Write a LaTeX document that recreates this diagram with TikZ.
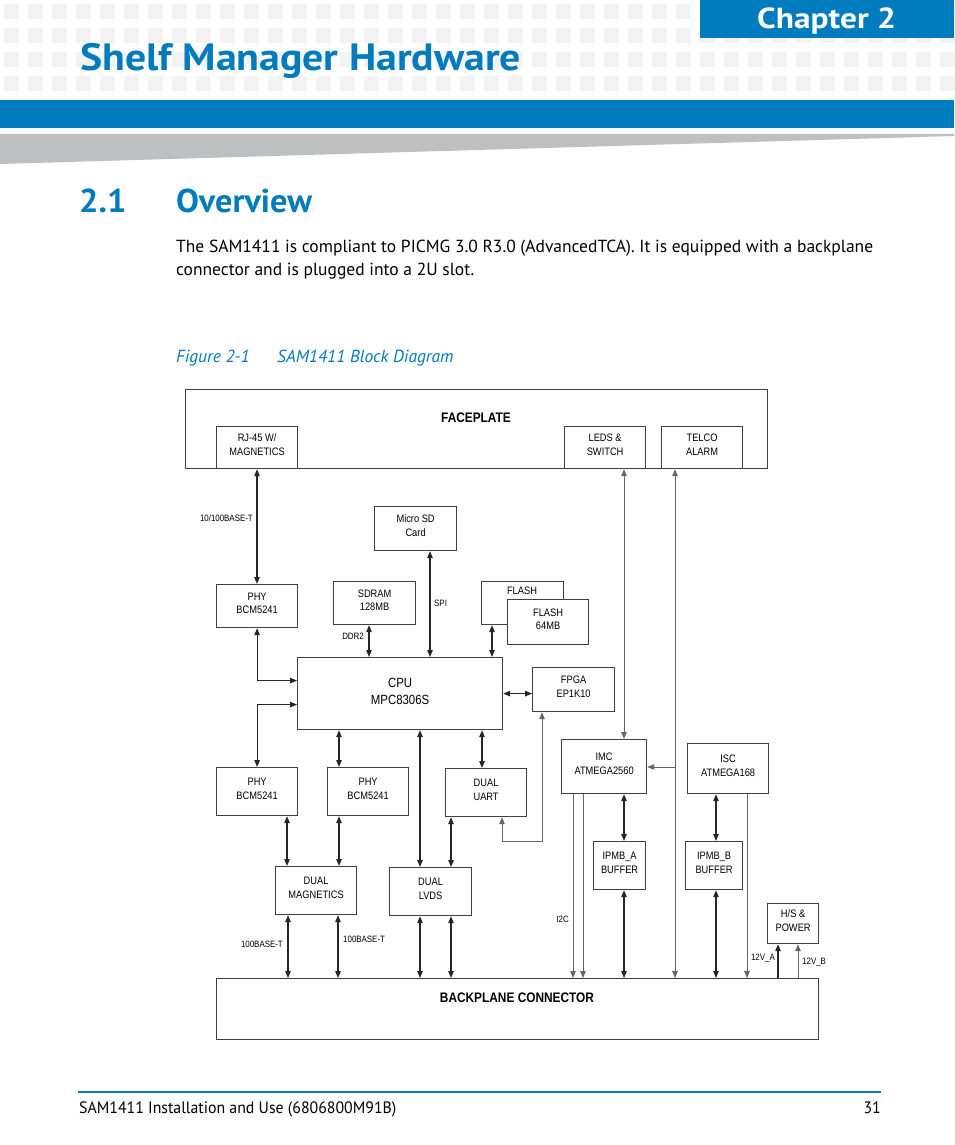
\documentclass[tikz,border=0pt]{standalone}
\usepackage{fontspec}
\setmainfont{PT Sans}
\newfontfamily\hdA[FakeStretch=1.1]{PT Sans}
\newfontfamily\hdB[FakeStretch=1.15]{PT Sans}
\newfontfamily\hdC[FakeStretch=1.04]{PT Sans}
\newfontfamily\bodyf{PT Sans}
\newfontfamily\footf[FakeStretch=0.96]{PT Sans}
\newfontfamily\dg[FakeStretch=0.86]{Liberation Sans}
\usetikzlibrary{arrows.meta}
\definecolor{eblue}{RGB}{0,123,189}
\definecolor{sqgray}{RGB}{243,243,243}
\definecolor{wedgegray}{RGB}{190,191,193}
\newcommand\mybox[6]{\node[box, anchor=north west, minimum width={(#4-#2)*1pt}, minimum height={(#5-#3)*1pt}] (#1) at (#2,#3) {};
  \node[boxtext] (#1t) at ([yshift=3pt]#1.center) {#6};}
\tikzset{
  box/.style={draw=black!75, line width=1.2pt, fill=white, inner sep=0pt},
  boxtext/.style={inner sep=0pt, align=center, font=\dg\fontsize{10.8}{13.5}\selectfont},
  conn/.style={draw=black!85, line width=1.1pt},
  thinconn/.style={draw=black!60, line width=0.9pt},
  small/.style={inner sep=0pt, font=\dg\fontsize{9.2}{9}\selectfont},
  boldlbl/.style={inner sep=0pt, font=\dg\bfseries\fontsize{13.8}{14}\selectfont},
  pagetxt/.style={inner sep=0pt, anchor=base west},
}
\begin{document}
\begin{tikzpicture}[x=1pt, y=-1pt, >={Triangle[length=7pt,width=5.5pt]}]
\useasboundingbox (0,0) rectangle (954,1145);
\fill[white] (0,0) rectangle (954,1145);
% header pattern
\foreach \i in {0,...,39} {
  \foreach \j in {0,...,3} {
    \fill[sqgray] ({4+24*\i},{4+24*\j}) rectangle ++(15,15);
  }
}
\fill[eblue] (700,0) rectangle (954,38);
\node[pagetxt, text=white, font=\hdB\bfseries\fontsize{29}{29}\selectfont] (chap) at (757,29) {Chapter 2};
\node[pagetxt, text=eblue, font=\hdA\bfseries\fontsize{38}{38}\selectfont] (title) at (80,71) {Shelf Manager Hardware};
\fill[eblue] (0,100) rectangle (954,128);
\fill[wedgegray] (0,134) -- (954,134) -- (954,136) -- (0,164) -- cycle;
% section
\node[pagetxt, text=eblue, font=\hdC\bfseries\fontsize{33}{33}\selectfont] (secnum) at (79,212) {2.1};
\node[pagetxt, text=eblue, font=\hdC\bfseries\fontsize{33}{33}\selectfont] (sectitle) at (176,212) {Overview};
\node[pagetxt, font=\bodyf\fontsize{17.5}{17.5}\selectfont] (para1) at (176,252) {The SAM1411 is compliant to PICMG 3.0 R3.0 (AdvancedTCA). It is equipped with a backplane};
\node[pagetxt, font=\bodyf\fontsize{17.5}{17.5}\selectfont] (para2) at (176,275) {connector and is plugged into a 2U slot.};
\node[pagetxt, text=eblue, font=\bodyf\itshape\fontsize{17.5}{17.5}\selectfont] (fignum) at (176,362) {Figure 2-1};
\node[pagetxt, text=eblue, font=\bodyf\itshape\fontsize{17.5}{17.5}\selectfont] (figtitle) at (277,362) {SAM1411 Block Diagram};
% footer
\draw[eblue, line width=2pt] (78,1092) -- (881,1092);
\node[pagetxt, font=\footf\fontsize{16.5}{16.5}\selectfont] (foot) at (79,1113) {SAM1411 Installation and Use (6806800M91B)};
\node[inner sep=0pt, anchor=base east, font=\footf\fontsize{16.5}{16.5}\selectfont] (pagenum) at (881,1113) {31};

% ---------------- diagram ----------------
\mybox{face}{185}{389}{767}{468}{}
\node[boldlbl] (facet) at (476,418) {FACEPLATE};
\mybox{rj}{216}{426}{297}{468}{RJ-45 W/\\MAGNETICS}
\mybox{leds}{564}{426}{645}{468}{LEDS \&\\SWITCH}
\mybox{telco}{661}{426}{742}{468}{TELCO\\ALARM}
\mybox{sd}{374}{506}{456}{550}{Micro SD\\Card}
\mybox{phy1}{216}{584}{297}{627}{PHY\\BCM5241}
\mybox{sdram}{333}{581}{415}{624}{SDRAM\\128MB}
\mybox{flash1}{481}{581}{563}{624}{}
\node[inner sep=0pt, font=\dg\fontsize{10.8}{13.5}\selectfont] (flash1l) at (522,591) {FLASH};
\mybox{flash2}{507}{599}{588}{644}{FLASH\\64MB}
\node[box, anchor=north west, minimum width=205pt, minimum height=72pt] (cpu) at (297,657) {};
\node[boxtext, font=\dg\fontsize{13.3}{17}\selectfont] (cput) at ([yshift=2pt]cpu.center) {CPU\\MPC8306S};
\mybox{fpga}{532}{667}{614}{711}{FPGA\\EP1K10}
\mybox{imc}{561}{739}{646}{793}{IMC\\ATMEGA2560}
\mybox{isc}{687}{743}{768}{793}{ISC\\ATMEGA168}
\mybox{phy2}{216}{767}{297}{815}{PHY\\BCM5241}
\mybox{phy3}{327}{767}{408}{815}{PHY\\BCM5241}
\mybox{uart}{445}{768}{526}{816}{DUAL\\UART}
\mybox{ipmba}{593}{841}{645}{889}{IPMB\_A\\BUFFER}
\mybox{ipmbb}{685}{841}{742}{889}{IPMB\_B\\BUFFER}
\mybox{mag}{275}{866}{356}{914}{DUAL\\MAGNETICS}
\mybox{lvds}{389}{867}{471}{915}{DUAL\\LVDS}
\mybox{hs}{767}{903}{818}{943}{H/S \&\\POWER}
\mybox{bp}{216}{978}{818}{1039}{}
\node[boldlbl] (bpl) at (517,998) {BACKPLANE CONNECTOR};

% x positions
\foreach \xx in {257,287,288,338,339,369,420,430,451,482,492,502,542,573,583,624,675,716,747,778,798}
  \coordinate (x\xx) at (\xx,0);
\coordinate (uf) at (502,841);
\coordinate (tap) at (675,767);

% connectors
\draw[conn,<->] (x257 |- rj.south) -- (x257 |- phy1.north);
\draw[conn,<->] (x430 |- sd.south) -- (x430 |- cpu.north);
\draw[conn,<->] (x369 |- sdram.south) -- (x369 |- cpu.north);
\draw[conn,<->] (x492 |- flash1.south) -- (x492 |- cpu.north);
\draw[thinconn,<->] (x624 |- leds.south) -- (x624 |- imc.north);
\draw[thinconn,<->] (x675 |- telco.south) -- (x675 |- bp.north);
\draw[thinconn,->] (tap) -- (tap -| imc.east);
\draw[conn,<->] (phy1.south) |- ([yshift=13pt]cpu.west);
\draw[conn,<->] ([yshift=-11pt]cpu.west) -| (phy2.north);
\draw[conn,<->] (x339 |- cpu.south) -- (x339 |- phy3.north);
\draw[conn,<->] (x420 |- cpu.south) -- (x420 |- lvds.north);
\draw[conn,<->] (x482 |- cpu.south) -- (x482 |- uart.north);
\draw[conn,<->] (cpu.east) -- (cpu.east -| fpga.west);
\draw[thinconn,<->] (x502 |- uart.south) -- (uf) -| (x542 |- fpga.south);
\draw[conn,<->] (x287 |- phy2.south) -- (x287 |- mag.north);
\draw[conn,<->] (x339 |- phy3.south) -- (x339 |- mag.north);
\draw[conn,<->] (x451 |- uart.south) -- (x451 |- lvds.north);
\draw[conn,<->] (x288 |- mag.south) -- (x288 |- bp.north);
\draw[conn,<->] (x338 |- mag.south) -- (x338 |- bp.north);
\draw[conn,<->] (x420 |- lvds.south) -- (x420 |- bp.north);
\draw[conn,<->] (x451 |- lvds.south) -- (x451 |- bp.north);
\draw[thinconn,->] (x573 |- imc.south) -- (x573 |- bp.north);
\draw[thinconn,->] (x583 |- imc.south) -- (x583 |- bp.north);
\draw[conn,<->] (x624 |- imc.south) -- (x624 |- ipmba.north);
\draw[conn,<->] (x624 |- ipmba.south) -- (x624 |- bp.north);
\draw[conn,<->] (x716 |- isc.south) -- (x716 |- ipmbb.north);
\draw[conn,<->] (x716 |- ipmbb.south) -- (x716 |- bp.north);
\draw[thinconn,->] (x747 |- isc.south) -- (x747 |- bp.north);
\draw[conn,->] (x778 |- bp.north) -- (x778 |- hs.south);
\draw[thinconn,->] (x798 |- bp.north) -- (x798 |- hs.south);

% connector labels
\node[small, anchor=east] (l10100) at (253,518) {10/100BASE-T};
\node[small, anchor=west] (lspi) at (434,603) {SPI};
\node[small, anchor=east] (lddr) at (364,636) {DDR2};
\node[small, anchor=east] (l100a) at (283,944) {100BASE-T};
\node[small, anchor=west] (l100b) at (343,939) {100BASE-T};
\node[small, anchor=east] (li2c) at (569,919) {I2C};
\node[small, anchor=east] (l12a) at (775,958) {12V\_A};
\node[small, anchor=west] (l12b) at (802,962) {12V\_B};
\end{tikzpicture}
\end{document}
